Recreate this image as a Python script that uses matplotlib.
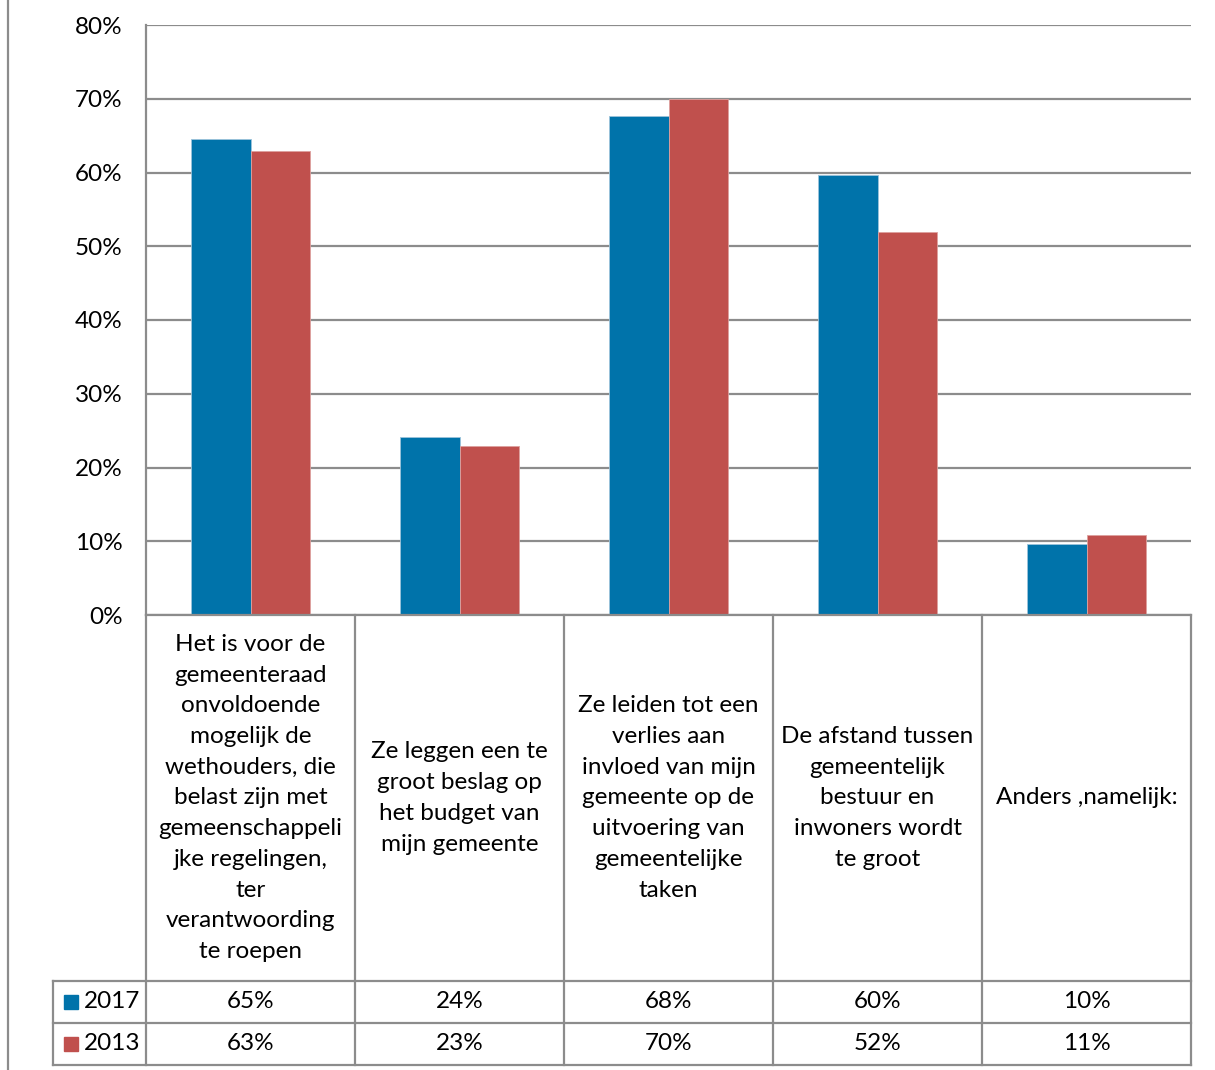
import matplotlib
matplotlib.use("Agg")
import matplotlib.pyplot as plt
from matplotlib.lines import Line2D
from matplotlib.patches import Rectangle
import numpy as np

categories = [
    "Het is voor de\ngemeenteraad\nonvoldoende\nmogelijk de\nwethouders, die\nbelast zijn met\ngemeenschappeli\njke regelingen,\nter\nverantwoording\nte roepen",
    "Ze leggen een te\ngroot beslag op\nhet budget van\nmijn gemeente",
    "Ze leiden tot een\nverlies aan\ninvloed van mijn\ngemeente op de\nuitvoering van\ngemeentelijke\ntaken",
    "De afstand tussen\ngemeentelijk\nbestuur en\ninwoners wordt\nte groot",
    "Anders ,namelijk:",
]
series_names = ["2017", "2013"]
values_2017 = [64.5, 24.1, 67.7, 59.7, 9.6]
values_2013 = [62.9, 22.9, 70.0, 51.9, 10.8]
labels_2017 = ["65%", "24%", "68%", "60%", "10%"]
labels_2013 = ["63%", "23%", "70%", "52%", "11%"]
yticks = [0, 10, 20, 30, 40, 50, 60, 70, 80]

colors = ["#0073AA", "#C0504D"]
grid_c = "#8C8C8C"
FONT = "Lato"
FS = 17.5

W, H = 1215, 1070
fig = plt.figure(figsize=(W / 100, H / 100), dpi=100)

def fx(px):
    return px / W

def fy(py):
    return 1 - py / H

left, right, top, bottom = 146, 1191, 25, 615
ax = fig.add_axes([fx(left), fy(bottom), fx(right - left), (bottom - top) / H])
n = len(categories)
x = np.arange(n)
bw = 0.287
ax.bar(x - bw / 2, values_2017, bw, color=colors[0], edgecolor="#9CC3DA", linewidth=0.6, zorder=3)
ax.bar(x + bw / 2, values_2013, bw, color=colors[1], edgecolor="#DDA09E", linewidth=0.6, zorder=3)
ax.set_xlim(-0.5, n - 0.5)
ax.set_ylim(0, 80)
ax.set_yticks(yticks)
ax.set_yticklabels([f"{v}%" for v in yticks], fontsize=FS, family=FONT)
ax.tick_params(axis="y", length=0, pad=17)
ax.set_xticks([])
ax.grid(axis="y", color=grid_c, linewidth=1.6, zorder=0)
for s in ["top", "right", "bottom"]:
    ax.spines[s].set_visible(False)
ax.spines["left"].set_color(grid_c)
ax.spines["left"].set_linewidth(1.6)

lw = 1.6
def hline(y, x0, x1):
    fig.add_artist(Line2D([fx(x0), fx(x1)], [fy(y), fy(y)], color=grid_c, linewidth=lw))

def vline(xp, y0, y1):
    fig.add_artist(Line2D([fx(xp), fx(xp)], [fy(y0), fy(y1)], color=grid_c, linewidth=lw))

# figure border line at left
vline(8, 0, H)

row1, row2, row3 = 981, 1023, 1065
legx = 53
hline(bottom, left, right)
hline(row1, legx, right)
hline(row2, legx, right)
hline(row3, legx, right)
vline(legx, row1, row3)
cw = (right - left) / n
for k in range(n + 1):
    vline(left + cw * k, bottom, row3)

for k, cat in enumerate(categories):
    cx = left + cw * (k + 0.5)
    fig.text(fx(cx), fy((bottom + row1) / 2), cat, ha="center", va="center",
             fontsize=FS, family=FONT, linespacing=1.57)
    fig.text(fx(cx), fy((row1 + row2) / 2), labels_2017[k], ha="center", va="center",
             fontsize=FS, family=FONT)
    fig.text(fx(cx), fy((row2 + row3) / 2), labels_2013[k], ha="center", va="center",
             fontsize=FS, family=FONT)

for i, (name, c) in enumerate(zip(series_names, colors)):
    yc = (row1 + row2) / 2 if i == 0 else (row2 + row3) / 2
    fig.add_artist(Rectangle((fx(64), fy(yc + 7)), 14 / W, 14 / H, color=c))
    fig.text(fx(84), fy(yc), name, ha="left", va="center", fontsize=FS, family=FONT)

fig.savefig("out.png", dpi=100)
